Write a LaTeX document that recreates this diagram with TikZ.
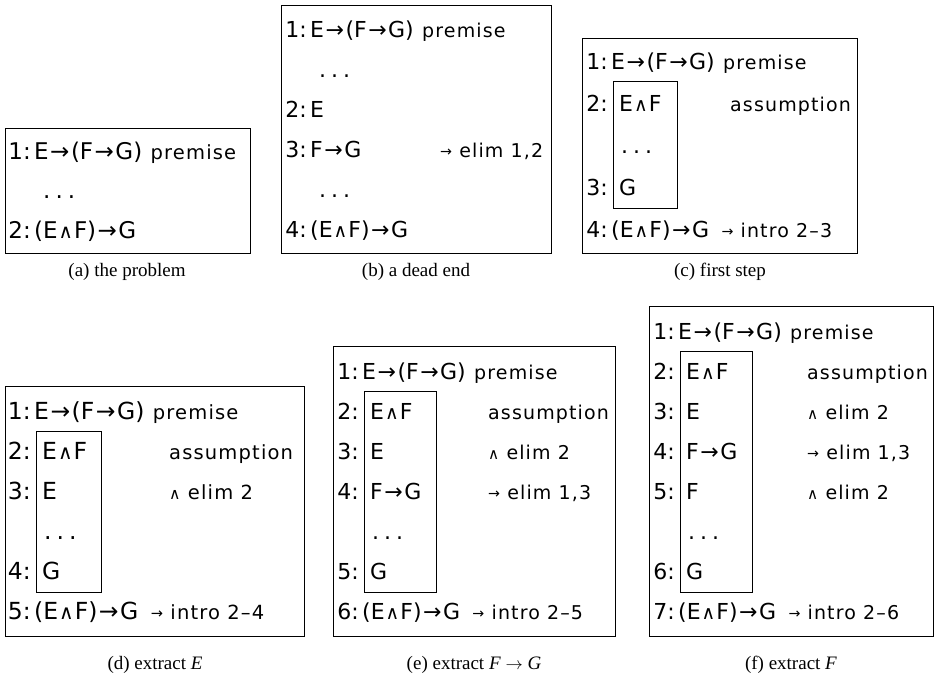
\documentclass[tikz,border=0pt]{standalone}
\usepackage{fontspec}
\newfontfamily\proofface{DejaVu Sans}
\newfontfamily\ruleface[LetterSpace=6]{DejaVu Sans}
\newfontfamily\capface{Liberation Serif}
\def\fsz{22}
\def\rsz{19}
\newcommand{\fmlfont}{\proofface\fontsize{\fsz}{\fsz}\selectfont}
\newcommand{\rulfont}{\ruleface\fontsize{\rsz}{\rsz}\selectfont}
\newcommand{\capfont}{\capface\fontsize{19}{22}\selectfont}
\newcommand{\imp}{\kern1.5pt→\kern1.5pt}
\newcommand{\con}{\kern1pt\scalebox{0.85}{∧}\kern1pt}
\newcommand{\rarr}{\raisebox{1pt}{\scalebox{0.75}{→}}}
\newcommand{\rand}{\scalebox{0.8}{∧}}
\newcommand{\gap}{.\hspace{5pt}.\hspace{5pt}.}

\tikzset{
  panel/.style={draw=black, line width=0.9pt},
  subproof/.style={draw=black, line width=0.9pt},
  lineno/.style={anchor=base east, font=\fmlfont, inner sep=0pt},
  fml/.style={anchor=base west, font=\fmlfont, inner sep=0pt},
  just/.style={anchor=base west, font=\rulfont, inner sep=0pt},
  subcap/.style={anchor=base, font=\capfont, inner sep=0pt},
}

\begin{document}
\begin{tikzpicture}[x=1pt, y=-1pt]
\useasboundingbox (0,0) rectangle (936,686);

% --- (a) the problem ---
\begin{scope}
\def\fsz{23}\def\rsz{19.5}
\draw[panel] (5,128) rectangle (250,253);
\node[lineno] (a-n1) at (31,159) {1:};
\node[fml] (a-f1) at (34,159) {E\imp(F\imp G)};
\node[just] (a-r1) at ([xshift=8pt]a-f1.base east) {premise};
\node[fml] (a-d1) at (43,198) {\gap};
\node[lineno] (a-n2) at (31,238) {2:};
\node[fml] (a-f2) at (34,238) {(E\con F)\imp G};
\node[subcap] (a-cap) at (127,276) {(a) the problem};
\end{scope}

% --- (b) a dead end ---
\draw[panel] (281,5) rectangle (551,253);
\node[lineno] (b-n1) at (307,37) {1:};
\node[fml] (b-f1) at (310,37) {E\imp(F\imp G)};
\node[just] (b-r1) at ([xshift=8pt]b-f1.base east) {premise};
\node[fml] (b-d1) at (319,77) {\gap};
\node[lineno] (b-n2) at (307,117) {2:};
\node[fml] (b-f2) at (310,117) {E};
\node[lineno] (b-n3) at (307,157) {3:};
\node[fml] (b-f3) at (310,157) {F\imp G};
\node[just] (b-r3) at (440,157) {\rarr\ elim 1,2};
\node[fml] (b-d2) at (319,197) {\gap};
\node[lineno] (b-n4) at (307,237) {4:};
\node[fml] (b-f4) at (310,237) {(E\con F)\imp G};
\node[subcap] (b-cap) at (416,276) {(b) a dead end};

% --- (c) first step ---
\draw[panel] (582,38) rectangle (857,253);
\draw[subproof] (613,81) rectangle (677,208);
\node[lineno] (c-n1) at (608,69) {1:};
\node[fml] (c-f1) at (611,69) {E\imp(F\imp G)};
\node[just] (c-r1) at ([xshift=8pt]c-f1.base east) {premise};
\node[lineno] (c-n2) at (608,111) {2:};
\node[fml] (c-f2) at (619,111) {E\con F};
\node[just] (c-r2) at (730,111) {assumption};
\node[fml] (c-d1) at (621,153) {\gap};
\node[lineno] (c-n3) at (608,195) {3:};
\node[fml] (c-f3) at (619,195) {G};
\node[lineno] (c-n4) at (608,237) {4:};
\node[fml] (c-f4) at (611,237) {(E\con F)\imp G};
\node[just] (c-r4) at ([xshift=12pt]c-f4.base east) {\rarr\ intro 2–3};
\node[subcap] (c-cap) at (720,276) {(c) first step};

% --- (d) extract E ---
\begin{scope}
\def\fsz{23.5}\def\rsz{19.5}
\draw[panel] (5,386) rectangle (304,636);
\draw[subproof] (36,431) rectangle (101,592);
\node[lineno] (d-n1) at (31,419) {1:};
\node[fml] (d-f1) at (34,419) {E\imp(F\imp G)};
\node[just] (d-r1) at ([xshift=8pt]d-f1.base east) {premise};
\node[lineno] (d-n2) at (31,459) {2:};
\node[fml] (d-f2) at (42,459) {E\con F};
\node[just] (d-r2) at (169,459) {assumption};
\node[lineno] (d-n3) at (31,499) {3:};
\node[fml] (d-f3) at (42,499) {E};
\node[just] (d-r3) at (169,499) {\rand\ elim 2};
\node[fml] (d-d1) at (44,539) {\gap};
\node[lineno] (d-n4) at (31,579) {4:};
\node[fml] (d-f4) at (42,579) {G};
\node[lineno] (d-n5) at (31,619) {5:};
\node[fml] (d-f5) at (34,619) {(E\con F)\imp G};
\node[just] (d-r5) at ([xshift=12pt]d-f5.base east) {\rarr\ intro 2–4};
\node[subcap] (d-cap) at (155,669) {(d) extract \textit{E}};
\end{scope}

% --- (e) extract F -> G ---
\draw[panel] (333,346) rectangle (615,636);
\draw[subproof] (364,391) rectangle (436,592);
\node[lineno] (e-n1) at (359,379) {1:};
\node[fml] (e-f1) at (362,379) {E\imp(F\imp G)};
\node[just] (e-r1) at ([xshift=8pt]e-f1.base east) {premise};
\node[lineno] (e-n2) at (359,419) {2:};
\node[fml] (e-f2) at (370,419) {E\con F};
\node[just] (e-r2) at (488,419) {assumption};
\node[lineno] (e-n3) at (359,459) {3:};
\node[fml] (e-f3) at (370,459) {E};
\node[just] (e-r3) at (488,459) {\rand\ elim 2};
\node[lineno] (e-n4) at (359,499) {4:};
\node[fml] (e-f4) at (370,499) {F\imp G};
\node[just] (e-r4) at (488,499) {\rarr\ elim 1,3};
\node[fml] (e-d1) at (372,539) {\gap};
\node[lineno] (e-n5) at (359,579) {5:};
\node[fml] (e-f5) at (370,579) {G};
\node[lineno] (e-n6) at (359,619) {6:};
\node[fml] (e-f6) at (362,619) {(E\con F)\imp G};
\node[just] (e-r6) at ([xshift=12pt]e-f6.base east) {\rarr\ intro 2–5};
\node[subcap] (e-cap) at (474,669) {(e) extract \textit{F} $\rightarrow$ \textit{G}};

% --- (f) extract F ---
\draw[panel] (649,306) rectangle (933,636);
\draw[subproof] (680,351) rectangle (752,592);
\node[lineno] (f-n1) at (675,339) {1:};
\node[fml] (f-f1) at (678,339) {E\imp(F\imp G)};
\node[just] (f-r1) at ([xshift=8pt]f-f1.base east) {premise};
\node[lineno] (f-n2) at (675,379) {2:};
\node[fml] (f-f2) at (686,379) {E\con F};
\node[just] (f-r2) at (807,379) {assumption};
\node[lineno] (f-n3) at (675,419) {3:};
\node[fml] (f-f3) at (686,419) {E};
\node[just] (f-r3) at (807,419) {\rand\ elim 2};
\node[lineno] (f-n4) at (675,459) {4:};
\node[fml] (f-f4) at (686,459) {F\imp G};
\node[just] (f-r4) at (807,459) {\rarr\ elim 1,3};
\node[lineno] (f-n5) at (675,499) {5:};
\node[fml] (f-f5) at (686,499) {F};
\node[just] (f-r5) at (807,499) {\rand\ elim 2};
\node[fml] (f-d1) at (688,539) {\gap};
\node[lineno] (f-n6) at (675,579) {6:};
\node[fml] (f-f6) at (686,579) {G};
\node[lineno] (f-n7) at (675,619) {7:};
\node[fml] (f-f7) at (678,619) {(E\con F)\imp G};
\node[just] (f-r7) at ([xshift=12pt]f-f7.base east) {\rarr\ intro 2–6};
\node[subcap] (f-cap) at (791,669) {(f) extract \textit{F}};

\end{tikzpicture}
\end{document}
